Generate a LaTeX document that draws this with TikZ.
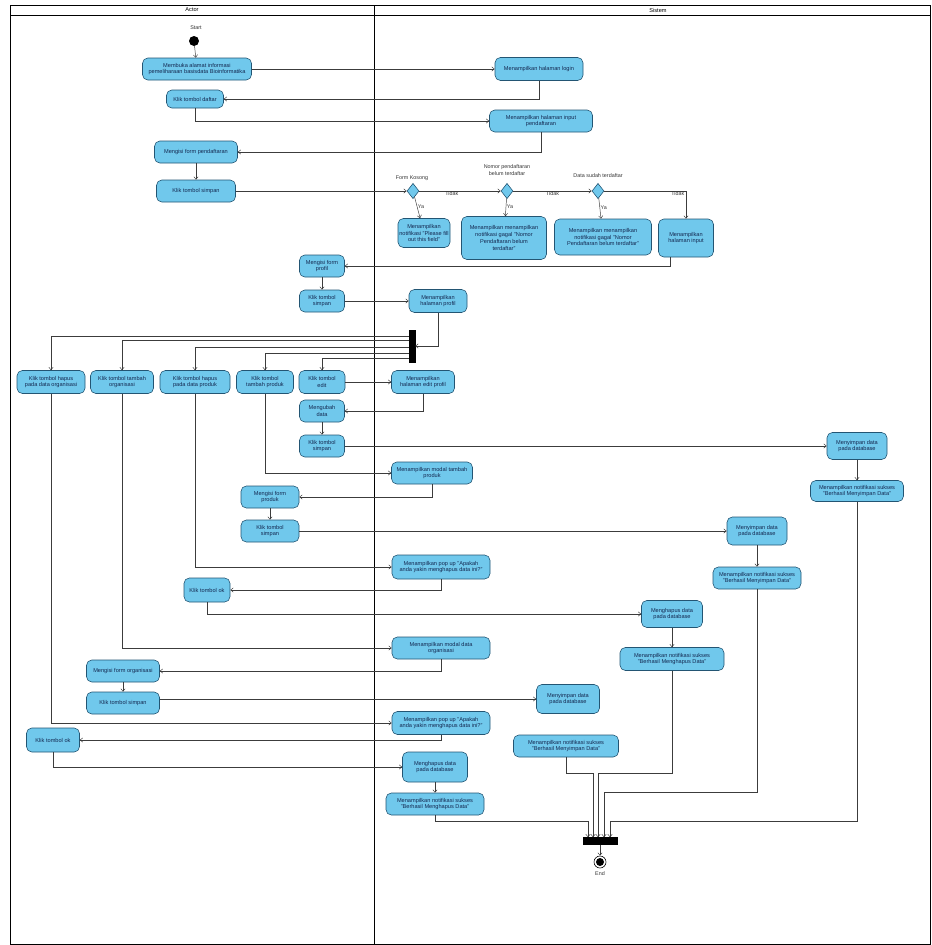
\documentclass[tikz,border=0pt]{standalone}
\usepackage{fontspec}
\setmainfont{Liberation Sans}
\usetikzlibrary{arrows.meta,shapes.geometric}
\definecolor{actfill}{RGB}{112,200,236}
\definecolor{actdraw}{RGB}{35,85,115}
\definecolor{acttext}{RGB}{20,40,80}
\definecolor{linec}{RGB}{60,60,60}
\tikzset{
  act/.style={draw=actdraw, fill=actfill, rounded corners=1.6mm, align=center, text=acttext,
    font=\fontsize{4.8}{5.8}\selectfont, inner sep=0.5pt, line width=0.5pt},
  wh/.style 2 args={minimum width=#1*0.3mm, minimum height=#2*0.3mm},
  flow/.style={draw=linec, line width=0.4pt, -{Straight Barb[length=2.2pt,width=3.6pt]}},
  plain/.style={draw=linec, line width=0.4pt},
  dec/.style={diamond, draw=actdraw, fill=actfill, minimum width=3.6mm, minimum height=4.6mm, inner sep=0pt, line width=0.5pt},
  guard/.style={font=\fontsize{4.6}{5.4}\selectfont, text=black!80, align=center, inner sep=0.5pt},
  bar/.style={fill=black, draw=black, inner sep=0pt},
  lanehead/.style={font=\fontsize{4.8}{5.8}\selectfont, inner sep=0pt}
}
\begin{document}
\begin{tikzpicture}[x=0.3mm, y=-0.3mm]
\useasboundingbox (0,0) rectangle (932,945);
% frame and lanes
\draw[line width=0.6pt] (10,5) rectangle (930,944);
\draw[line width=0.6pt] (10,15) -- (930,15);
\draw[line width=0.6pt] (374,5) -- (374,944);
\node[lanehead] (hActor) at (192,10) {Actor};
\node[lanehead] (hSistem) at (658,10) {Sistem};

% start
\node[circle, fill=black, minimum size=3mm, inner sep=0pt] (start) at (194,41) {};
\node[guard] (startlbl) at (196,28) {Start};

% actor top
\node[act, wh={109}{22}] (A1) at (197,69) {Membuka alamat informasi\\pemeliharaan basisdata Bioinformatika};
\node[act, wh={57}{18}] (A2) at (195,99) {Klik tombol daftar};
\node[act, wh={83}{22}] (A3) at (196,152) {Mengisi form pendaftaran};
\node[act, wh={79}{22}] (A4) at (196,191) {Klik tombol simpan};

% system top
\node[act, wh={88}{23}] (S1) at (539,69) {Menampilkan halaman login};
\node[act, wh={103}{22}] (S2) at (541,121) {Menampilkan halaman input\\pendaftaran};

% decisions
\node[dec] (D1) at (413,191) {};
\node[dec] (D2) at (507,191) {};
\node[dec] (D3) at (598,191) {};
\node[guard] (gD1) at (412,178) {Form Kosong};
\node[guard] (gD2) at (507,170) {Nomor pendaftaran\\belum terdaftar};
\node[guard] (gD3) at (598,176) {Data sudah terdaftar};

\node[act, wh={52}{29}] (R1) at (424,233) {Menampilkan\\notifikasi "Please fill\\out this field"};
\node[act, wh={85}{43}] (R2) at (504,238) {Menampilkan menampilkan\\notifikasi gagal "Nomor\\Pendaftaran belum\\terdaftar"};
\node[act, wh={97}{36}] (R3) at (603,237) {Menampilkan menampilkan\\notifikasi gagal "Nomor\\Pendaftaran belum terdaftar"};
\node[act, wh={55}{38}] (R4) at (686,238) {Menampilkan\\halaman input};

% profile
\node[act, wh={45}{22}] (A5) at (322,266) {Mengisi form\\profil};
\node[act, wh={45}{22}] (A6) at (322,301) {Klik tombol\\simpan};
\node[act, wh={58}{23}] (S3) at (438,301) {Menampilkan\\halaman profil};
\node[bar, minimum width=1.8mm, minimum height=9.6mm] (F) at (412,346) {};

% fork row
\node[act, wh={68}{23}] (A7) at (51,382) {Klik tombol hapus\\pada data organisasi};
\node[act, wh={63}{23}] (A8) at (122,382) {Klik tombol tambah\\organisasi};
\node[act, wh={70}{23}] (A9) at (195,382) {Klik tombol hapus\\pada data produk};
\node[act, wh={57}{23}] (A10) at (265,382) {Klik tombol\\tambah produk};
\node[act, wh={46}{23}] (A11) at (322,382) {Klik tombol\\edit};
\node[act, wh={63}{23}] (S4) at (423,382) {Menampilkan\\halaman edit profil};

% edit branch
\node[act, wh={45}{22}] (A12) at (322,411) {Mengubah\\data};
\node[act, wh={45}{22}] (A13) at (322,446) {Klik tombol\\simpan};
\node[act, wh={60}{27}] (S5) at (857,446) {Menyimpan data\\pada database};
\node[act, wh={93}{21}] (S6) at (857,491) {Menampilkan notifikasi sukses\\"Berhasil Menyimpan Data"};

% tambah produk
\node[act, wh={81}{22}] (S7) at (432,473) {Menampilkan modal tambah\\produk};
\node[act, wh={58}{22}] (A14) at (270,497) {Mengisi form\\produk};
\node[act, wh={58}{22}] (A15) at (270,531) {Klik tombol\\simpan};
\node[act, wh={60}{28}] (S8) at (757,531) {Menyimpan data\\pada database};
\node[act, wh={88}{22}] (S9) at (757,578) {Menampilkan notifikasi sukses\\"Berhasil Menyimpan Data"};

% hapus produk
\node[act, wh={98}{24}] (S10) at (441,567) {Menampilkan pop up "Apakah\\anda yakin menghapus data ini?"};
\node[act, wh={46}{24}] (A16) at (207,590) {Klik tombol ok};
\node[act, wh={61}{27}] (S11) at (672,614) {Menghapus data\\pada database};
\node[act, wh={104}{23}] (S12) at (672,659) {Menampilkan notifikasi sukses\\"Berhasil Menghapus Data"};

% tambah organisasi
\node[act, wh={98}{22}] (S13) at (441,648) {Menampilkan modal data\\organisasi};
\node[act, wh={73}{22}] (A17) at (123,671) {Mengisi form organisasi};
\node[act, wh={73}{22}] (A18) at (123,703) {Klik tombol simpan};
\node[act, wh={63}{29}] (S14) at (568,699) {Menyimpan data\\pada database};
\node[act, wh={105}{22}] (S15) at (566,746) {Menampilkan notifikasi sukses\\"Berhasil Menyimpan Data"};

% hapus organisasi
\node[act, wh={98}{23}] (S16) at (441,723) {Menampilkan pop up "Apakah\\anda yakin menghapus data ini?"};
\node[act, wh={53}{24}] (A19) at (53,740) {Klik tombol ok};
\node[act, wh={65}{30}] (S17) at (435,767) {Menghapus data\\pada database};
\node[act, wh={98}{22}] (S18) at (435,804) {Menampilkan notifikasi sukses\\"Berhasil Menghapus Data"};

% join and end
\node[bar, minimum width=10.2mm, minimum height=2.1mm] (J) at (600,841) {};
\node[circle, draw=black, line width=0.5pt, minimum size=3.6mm, inner sep=0pt] (E) at (600,862) {};
\fill[black] (E.center) circle (1.2mm);
\node[guard] (endlbl) at (600,874) {End};

% coordinates for routing
\coordinate (f1) at (412,336);
\coordinate (f2) at (412,340);
\coordinate (f3) at (412,347);
\coordinate (f4) at (412,353);
\coordinate (f5) at (412,358);
\coordinate (j1) at (588,821);
\coordinate (j2) at (593,773);
\coordinate (j3) at (598,773);
\coordinate (j4) at (604,792);
\coordinate (j5) at (610,821);

% flows: top
\draw[flow] (start) -- (A1);
\draw[flow] (A1) -- (S1);
\draw[flow] (S1.south) |- (A2.east);
\draw[flow] (A2.south) |- (S2.west);
\draw[flow] (S2.south) |- (A3.east);
\draw[flow] (A3) -- (A4);
\draw[flow] (A4) -- (D1);
\draw[flow] (D1) -- node[guard, below, pos=0.4] (t1) {Tidak} (D2);
\draw[flow] (D2) -- node[guard, below, pos=0.5] (t2) {Tidak} (D3);
\draw[flow] (D3) -| node[guard, below, pos=0.45] (t3) {Tidak} (R4.north);
\draw[flow] (D1) -- node[guard, right, pos=0.45] (y1) {Ya} (R1);
\draw[flow] (D2) -- node[guard, right, pos=0.45] (y2) {Ya} (R2);
\draw[flow] (D3) -- node[guard, right, pos=0.45] (y3) {Ya} (R3);
\draw[flow] ([xshift=-4.8mm]R4.south) |- (A5.east);
\draw[flow] (A5) -- (A6);
\draw[flow] (A6) -- (S3);
\draw[flow] (S3.south) |- (F.east);

% fork outputs
\draw[flow] (F.west |- f1) -| (A7.north);
\draw[flow] (F.west |- f2) -| (A8.north);
\draw[flow] (F.west |- f3) -| (A9.north);
\draw[flow] (F.west |- f4) -| (A10.north);
\draw[flow] (F.west |- f5) -| (A11.north);

% edit profil
\draw[flow] (A11) -- (S4);
\draw[flow] (S4.south) |- (A12.east);
\draw[flow] (A12) -- (A13);
\draw[flow] (A13) -- (S5);
\draw[flow] (S5) -- (S6);

% tambah produk
\draw[flow] (A10.south) |- (S7.west);
\draw[flow] (S7.south) |- (A14.east);
\draw[flow] (A14) -- (A15);
\draw[flow] (A15) -- (S8);
\draw[flow] (S8) -- (S9);

% hapus produk
\draw[flow] (A9.south) |- (S10.west);
\draw[flow] (S10.south) |- (A16.east);
\draw[flow] (A16.south) |- (S11.west);
\draw[flow] (S11) -- (S12);

% tambah organisasi
\draw[flow] (A8.south) |- (S13.west);
\draw[flow] (S13.south) |- (A17.east);
\draw[flow] (A17) -- (A18);
\draw[flow] (A18.east |- S14) -- (S14.west);

% hapus organisasi
\draw[flow] (A7.south) |- (S16.west);
\draw[flow] (S16.south) |- (A19.east);
\draw[flow] (A19.south) |- (S17.west);
\draw[flow] (S17) -- (S18);

% to join
\draw[flow] (S18.south) |- (j1) -- (j1 |- J.north);
\draw[flow] (S15.south) |- (j2) -- (j2 |- J.north);
\draw[flow] (S12.south) |- (j3) -- (j3 |- J.north);
\draw[flow] (S9.south) |- (j4) -- (j4 |- J.north);
\draw[flow] (S6.south) |- (j5) -- (j5 |- J.north);
\draw[flow] (J) -- (E);
\end{tikzpicture}
\end{document}
